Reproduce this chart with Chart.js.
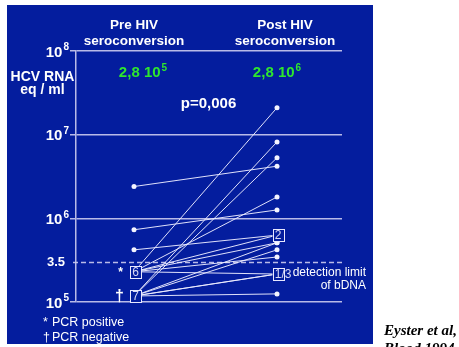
<!DOCTYPE html>
<html>
<head>
<meta charset="utf-8">
<script src="https://cdn.jsdelivr.net/npm/chart.js@4.4.0/dist/chart.umd.min.js"></script>
<style>
  html, body { margin: 0; padding: 0; background: #fff; }
  #wrap { width: 459px; height: 347px; position: relative; }
</style>
</head>
<body>
<div id="wrap"><canvas id="chart"></canvas></div>
<script>
// HCV RNA before / after HIV seroconversion

// ===== DATA =====
const groupHeaders = [['Pre HIV', 'seroconversion'], ['Post HIV', 'seroconversion']];
const medianMantissa = ['2,8', '2,8'];
const medianExponent = ['5', '6'];
const pValueText = 'p=0,006';

// one entry per patient: value before and after seroconversion (eq / ml)
const preValues = [2.4e6, 7.3e5, 4.2e5,
  2.3e5, 2.3e5, 2.3e5, 2.3e5, 2.3e5, 2.3e5,
  1.18e5, 1.18e5, 1.18e5, 1.18e5, 1.18e5, 1.18e5, 1.18e5];
const postValues = [4.2e6, 1.26e6, 6.3e5,
  2.1e7, 1.8e6, 6.3e5, 5.1e5, 3.45e5, 2.16e5,
  8.2e6, 5.3e6, 4.2e5, 2.16e5, 2.16e5, 1.25e5, 5.1e5];

// grouped points shown as a numbered box
const preBoxes = [
  { value: 2.3e5, label: '6', mark: '*' },
  { value: 1.18e5, label: '7', mark: '\u2020' },
];
const postBoxes = [
  { value: 6.3e5, label: '2' },
  { value: 2.16e5, label: '1/3' },
];

const yTicks = [1e5, 1e6, 1e7, 1e8];
const detectionLimit = 3.0e5;
const detectionTick = '3.5';
const detectionText = ['detection limit', 'of bDNA'];
const footnotes = [['*', 'PCR positive'], ['\u2020', 'PCR negative']];
const citation = ['Eyster et al,', 'Blood 1994'];

// ===== STYLE =====
const PANEL = '#041d9e';
const LINE = 'rgba(235,235,255,0.95)';
const GRID = 'rgba(205,205,240,0.9)';
const GREEN = '#2ee62e';
const SANS = '"Liberation Sans", Arial, sans-serif';

const isBoxed = (boxes, v) => boxes.some(b => b.value === v);

const datasets = preValues.map((v, i) => ({
  data: [{ x: 0, y: v }, { x: 1, y: postValues[i] }],
  borderColor: LINE,
  borderWidth: 1,
  pointRadius: [isBoxed(preBoxes, v) ? 0 : 2.5, isBoxed(postBoxes, postValues[i]) ? 0 : 2.5],
  pointBackgroundColor: '#f4f4ff',
  pointBorderWidth: 0,
  fill: false,
  tension: 0,
}));

function supText(ctx, base, sup, x, y, size, supSize, align) {
  ctx.font = `bold ${size}px ${SANS}`;
  const w1 = ctx.measureText(base).width;
  ctx.font = `bold ${supSize}px ${SANS}`;
  const w2 = ctx.measureText(sup).width;
  const total = w1 + w2 + 1;
  let left = x;
  if (align === 'right') left = x - total;
  if (align === 'center') left = x - total / 2;
  ctx.textAlign = 'left';
  ctx.textBaseline = 'alphabetic';
  ctx.font = `bold ${size}px ${SANS}`;
  ctx.fillText(base, left, y);
  ctx.font = `bold ${supSize}px ${SANS}`;
  ctx.fillText(sup, left + w1 + 1, y - size * 0.42);
}

const slidePlugin = {
  id: 'slide',
  beforeDraw(chart) {
    const ctx = chart.ctx;
    ctx.save();
    ctx.fillStyle = '#fff';
    ctx.fillRect(0, 0, chart.width, chart.height);
    ctx.fillStyle = PANEL;
    ctx.fillRect(7, 5, 366, 339);
    ctx.restore();
  },
  beforeDatasetsDraw(chart) {
    const { ctx, chartArea, scales } = chart;
    const y = Math.round(scales.y.getPixelForValue(detectionLimit)) + 0.5;
    ctx.save();
    ctx.strokeStyle = GRID;
    ctx.lineWidth = 1.5;
    ctx.setLineDash([5, 3]);
    ctx.beginPath();
    ctx.moveTo(chartArea.left - 3, y);
    ctx.lineTo(chartArea.right + 3, y);
    ctx.stroke();
    ctx.restore();
  },
  afterDraw(chart) {
    const { ctx, chartArea, scales } = chart;
    const xs = scales.x, ys = scales.y;
    ctx.save();
    ctx.fillStyle = '#fff';

    // y tick labels with superscript exponent
    yTicks.forEach(t => {
      const py = ys.getPixelForValue(t);
      supText(ctx, '10', String(Math.round(Math.log10(t))), chartArea.left - 7, py + 5.5, 15, 10, 'right');
    });
    ctx.font = `bold 13px ${SANS}`;
    ctx.textAlign = 'right';
    ctx.textBaseline = 'middle';
    ctx.fillText(detectionTick, chartArea.left - 11, ys.getPixelForValue(detectionLimit));

    // axis title
    ctx.textAlign = 'center';
    ctx.textBaseline = 'alphabetic';
    ctx.font = `bold 14px ${SANS}`;
    ctx.fillText('HCV RNA', 42.5, 81);
    ctx.fillText('eq / ml', 42.5, 94);

    // group headers
    const headX = [xs.getPixelForValue(0), xs.getPixelForValue(1) + 8];
    ctx.font = `bold 13.5px ${SANS}`;
    groupHeaders.forEach((lines, i) => {
      ctx.fillText(lines[0], headX[i], 28.5);
      ctx.fillText(lines[1], headX[i], 44.5);
    });

    // medians
    ctx.fillStyle = GREEN;
    const medX = [xs.getPixelForValue(0) + 9, xs.getPixelForValue(1)];
    medianMantissa.forEach((m, i) => {
      supText(ctx, m + ' 10', medianExponent[i], medX[i], 77, 15, 10, 'center');
    });

    // p value
    ctx.fillStyle = '#fff';
    ctx.font = `bold 15px ${SANS}`;
    ctx.textAlign = 'center';
    ctx.fillText(pValueText, 208.5, 108);

    // numbered boxes
    const drawBox = (px, py, label) => {
      ctx.fillStyle = PANEL;
      ctx.fillRect(px - 5.5, py - 6, 11, 12);
      ctx.strokeStyle = '#e8e8ff';
      ctx.lineWidth = 1;
      ctx.strokeRect(Math.round(px - 5.5) + 0.5, Math.round(py - 6) + 0.5, 11, 12);
      ctx.fillStyle = '#d8d8f4';
      ctx.font = `12px ${SANS}`;
      ctx.textAlign = 'left';
      ctx.textBaseline = 'middle';
      ctx.fillText(label, px - 3.2, py + 1);
    };
    preBoxes.forEach(b => {
      const px = xs.getPixelForValue(0) + 1.5;
      const py = ys.getPixelForValue(b.value);
      drawBox(px, py, b.label);
      ctx.fillStyle = '#fff';
      ctx.textAlign = 'center';
      if (b.mark === '*') {
        ctx.font = `bold 12px ${SANS}`;
        ctx.fillText(b.mark, px - 15, py + 1);
      } else {
        ctx.font = `bold 16px ${SANS}`;
        ctx.fillText(b.mark, px - 16, py + 1);
      }
    });
    postBoxes.forEach(b => {
      drawBox(xs.getPixelForValue(1) + 1, ys.getPixelForValue(b.value), b.label);
    });

    // detection limit note
    ctx.fillStyle = '#fff';
    ctx.font = `12px ${SANS}`;
    ctx.textAlign = 'right';
    ctx.textBaseline = 'alphabetic';
    ctx.fillText(detectionText[0], 366, 276);
    ctx.fillText(detectionText[1], 366, 289);

    // footnotes
    ctx.textAlign = 'left';
    ctx.font = `12.5px ${SANS}`;
    ctx.fillText(footnotes[0][0], 43, 326);
    ctx.fillText(footnotes[0][1], 52, 326);
    ctx.fillText(footnotes[1][0], 43, 341);
    ctx.fillText(footnotes[1][1], 52, 341);

    // citation
    ctx.fillStyle = '#000';
    ctx.font = `bold italic 15px "Liberation Serif", "Times New Roman", serif`;
    ctx.fillText(citation[0], 384, 335);
    ctx.fillText(citation[1], 384, 353);
    ctx.restore();
  },
};

new Chart(document.getElementById('chart'), {
  type: 'line',
  data: { datasets },
  options: {
    responsive: true,
    maintainAspectRatio: false,
    animation: false,
    events: [],
    layout: { padding: { left: 70, right: 117, top: 51, bottom: 45 } },
    plugins: { legend: { display: false }, tooltip: { enabled: false } },
    scales: {
      x: { type: 'linear', min: -0.4056, max: 1.4545, display: false },
      y: {
        type: 'logarithmic',
        min: 1e5,
        max: 1e8,
        afterBuildTicks(scale) { scale.ticks = yTicks.map(v => ({ value: v })); },
        afterFit(scale) { scale.width = 6; },
        ticks: { display: false },
        grid: { color: GRID, lineWidth: 1.5, tickLength: 6, drawTicks: true },
        border: { display: true, color: GRID, width: 1.5 },
      },
    },
  },
  plugins: [slidePlugin],
});
</script>
</body>
</html>
